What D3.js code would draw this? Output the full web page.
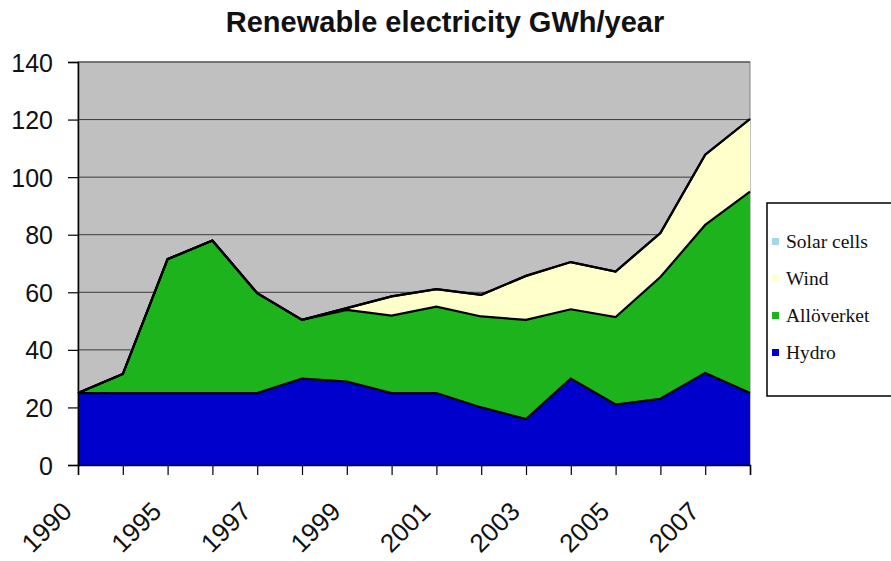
<!DOCTYPE html>
<html>
<head>
<meta charset="utf-8">
<script src="https://cdn.jsdelivr.net/npm/d3@7"></script>
<style>
  html, body { margin: 0; padding: 0; background: #ffffff; }
  svg { display: block; }
</style>
</head>
<body>
<svg id="chart" width="891" height="561"></svg>
<script>
// Renewable electricity production, GWh per year
const years = ["1990", "1994", "1995", "1996", "1997", "1998", "1999", "2000",
               "2001", "2002", "2003", "2004", "2005", "2006", "2007", "2008"];
const hydro      = [25, 25, 25, 25, 25, 30, 29, 25, 25, 20, 16, 30, 21, 23, 32, 25];
const alloverket = [0, 6.6, 46.5, 53, 34.7, 20.4, 24.9, 26.9, 30, 31.6, 34.4, 24.1, 30.4, 42.3, 51.4, 70];
const wind       = [0, 0, 0, 0, 0, 0, 0.6, 6.7, 6.1, 7.5, 15.3, 16.4, 15.8, 15.3, 24.4, 25.2];
const solarCells = [0, 0, 0, 0, 0, 0, 0, 0, 0, 0, 0, 0, 0, 0, 0, 0];
const yTicks = [0, 20, 40, 60, 80, 100, 120, 140];

const seriesKeys   = ["Hydro", "Allöverket", "Wind", "Solar cells"];
const seriesColors = { "Hydro": "#0000cc", "Allöverket": "#1db31d", "Wind": "#ffffcc", "Solar cells": "#a6d8e4" };

const rows = years.map((y, i) => ({
  year: y,
  "Hydro": hydro[i],
  "Allöverket": alloverket[i],
  "Wind": wind[i],
  "Solar cells": solarCells[i]
}));

const svg = d3.select("#chart");
const plot = { left: 78, right: 750, top: 62, bottom: 465 };

const x = d3.scalePoint().domain(years).range([plot.left, plot.right]);
const y = d3.scaleLinear().domain([0, 140]).range([plot.bottom, plot.top]);

// plot background
svg.append("rect")
  .attr("x", plot.left).attr("y", plot.top)
  .attr("width", plot.right - plot.left).attr("height", plot.bottom - plot.top)
  .attr("fill", "#c0c0c0")
  .attr("stroke", "#808080").attr("stroke-width", 1);

// horizontal gridlines
svg.append("g")
  .selectAll("line")
  .data(yTicks.filter(d => d > 0))
  .join("line")
  .attr("x1", plot.left).attr("x2", plot.right)
  .attr("y1", d => y(d)).attr("y2", d => y(d))
  .attr("stroke", "#3a3a3a").attr("stroke-width", 1);

// stacked areas
const stack = d3.stack().keys(seriesKeys);
const layers = stack(rows);

const area = d3.area()
  .x(d => x(d.data.year))
  .y0(d => y(d[0]))
  .y1(d => y(d[1]));
const topLine = d3.line()
  .x(d => x(d.data.year))
  .y(d => y(d[1]));

const areaG = svg.append("g");
areaG.selectAll("path.area")
  .data(layers)
  .join("path")
  .attr("class", "area")
  .attr("d", area)
  .attr("fill", d => seriesColors[d.key]);

areaG.selectAll("path.edge")
  .data(layers)
  .join("path")
  .attr("class", "edge")
  .attr("d", topLine)
  .attr("fill", "none")
  .attr("stroke", "#000")
  .attr("stroke-width", 2.2)
  .attr("stroke-linejoin", "miter");

// y axis
const yAxis = d3.axisLeft(y).tickValues(yTicks).tickSize(10).tickPadding(15);
const yg = svg.append("g").attr("transform", `translate(${plot.left},0)`).call(yAxis);
yg.select(".domain").attr("stroke", "#000").attr("stroke-width", 1.5);
yg.selectAll(".tick line").attr("stroke", "#000").attr("stroke-width", 1.2);
yg.selectAll(".tick text")
  .attr("font-family", "Liberation Sans, Arial, sans-serif")
  .attr("font-size", 25)
  .attr("fill", "#111")
  .attr("dy", "0.36em");

// x axis, every second category labelled
const xAxis = d3.axisBottom(x)
  .tickSize(10)
  .tickFormat((d, i) => (i % 2 === 0 && i < years.length - 1) ? d : "");
const xg = svg.append("g").attr("transform", `translate(0,${plot.bottom})`).call(xAxis);
xg.select(".domain").attr("stroke", "#000").attr("stroke-width", 1.5);
xg.selectAll(".tick line").attr("stroke", "#000").attr("stroke-width", 1.2);
xg.selectAll(".tick text")
  .attr("font-family", "Liberation Sans, Arial, sans-serif")
  .attr("font-size", 26)
  .attr("fill", "#111")
  .attr("text-anchor", "end")
  .attr("dy", null)
  .attr("y", 0)
  .attr("transform", "translate(-5,48) rotate(-45)");

// title
svg.append("text")
  .attr("x", 445).attr("y", 32)
  .attr("text-anchor", "middle")
  .attr("font-family", "Liberation Sans, Arial, sans-serif")
  .attr("font-weight", "bold")
  .attr("font-size", 29)
  .attr("fill", "#111")
  .text("Renewable electricity GWh/year");

// legend
const legend = svg.append("g");
legend.append("rect")
  .attr("x", 767).attr("y", 203)
  .attr("width", 140).attr("height", 193)
  .attr("fill", "#fff")
  .attr("stroke", "#000").attr("stroke-width", 1.5);

const legendKeys = seriesKeys.slice().reverse();
const item = legend.selectAll("g.item")
  .data(legendKeys)
  .join("g")
  .attr("class", "item")
  .attr("transform", (d, i) => `translate(772,${242 + i * 37})`);
item.append("rect")
  .attr("x", 0).attr("y", -4)
  .attr("width", 7).attr("height", 7)
  .attr("fill", d => seriesColors[d]);
item.append("text")
  .attr("x", 14).attr("y", 6)
  .attr("font-family", "Liberation Serif, Times New Roman, serif")
  .attr("font-size", 19.5)
  .attr("fill", "#111")
  .text(d => d);
</script>
</body>
</html>
